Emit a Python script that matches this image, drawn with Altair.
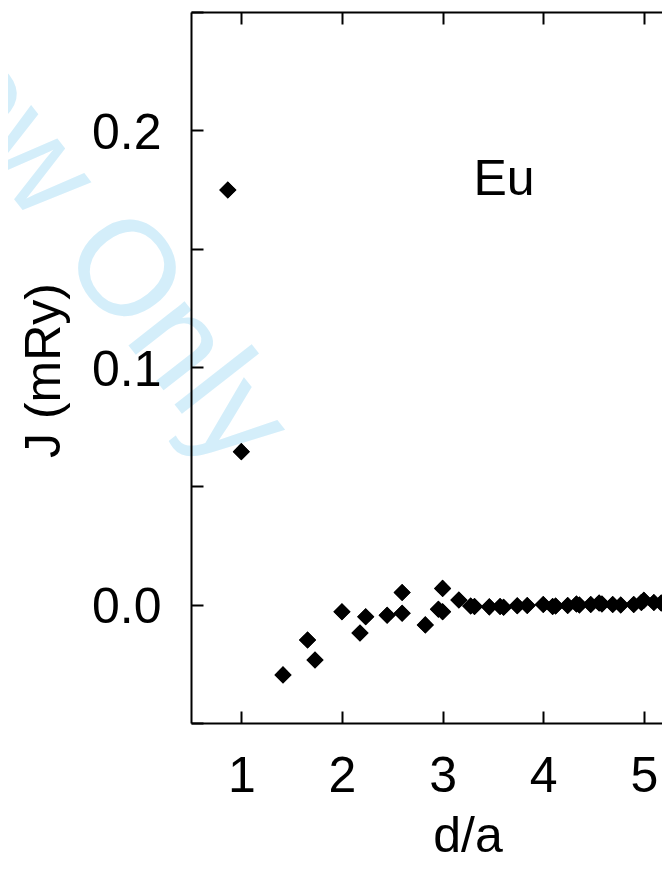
import altair as alt
import pandas as pd

# d/a (distance in lattice constants) and exchange J (mRy) for Eu
d_over_a = [0.866, 1.000, 1.414, 1.658, 1.732, 2.000, 2.179, 2.236, 2.449, 2.598,
            2.598, 2.828, 2.958, 3.000, 3.000, 3.162, 3.279, 3.317, 3.464, 3.571,
            3.606, 3.742, 3.841, 4.000, 4.093, 4.123, 4.243, 4.330, 4.359, 4.472,
            4.555, 4.583, 4.690, 4.770, 4.899, 4.975, 5.000, 5.099, 5.172, 5.196]
J_mRy = [0.1749, 0.0645, -0.0297, -0.0150, -0.0234, -0.0031, -0.0120, -0.0052, -0.0045, 0.0051,
         -0.0037, -0.0086, -0.0020, 0.0068, -0.0031, 0.0019, -0.0006, -0.0008, -0.0010, -0.0008,
         -0.0012, -0.0005, -0.0004, 0.0000, -0.0008, -0.0006, -0.0004, 0.0002, -0.0002, 0.0000,
         0.0006, 0.0002, 0.0000, -0.0002, 0.0000, 0.0008, 0.0018, 0.0008, 0.0006, 0.0002]

x_ticks = [1, 2, 3, 4, 5]
y_ticks = [-0.05, 0.0, 0.05, 0.10, 0.15, 0.20, 0.25]

label_text = ["Eu"]
label_x = [3.611]
label_y = [0.1727]

watermark = ["Review Only"]

FONT = "Liberation Sans"
points = pd.DataFrame({"d": d_over_a, "J": J_mRy})
labels = pd.DataFrame({"d": label_x, "J": label_y, "t": label_text})
wm = pd.DataFrame({"t": watermark})

xs = alt.Scale(domain=[0.5, 5.18], nice=False, zero=False)
ys = alt.Scale(domain=[-0.05, 0.25], nice=False, zero=False)

common = dict(grid=False, zindex=1, domainColor="black", domainWidth=2,
              tickColor="black", tickWidth=2, labelOverlap=False)

# watermark
wm_layer = alt.Chart(wm).mark_text(
    font=FONT, fontSize=135, color="#d4eefa", angle=52,
    align="right", baseline="alphabetic"
).encode(text="t:N", x=alt.value(38), y=alt.value(462))

# points with bottom/left inward ticks and labels
pts = alt.Chart(points).mark_point(
    shape="diamond", filled=True, size=290, color="black", opacity=1
).encode(
    x=alt.X("d:Q", scale=xs, axis=alt.Axis(
        orient="bottom", offset=-12, domain=False, ticks=True, tickSize=12,
        values=x_ticks, format="d", labelFont=FONT, labelFontSize=50,
        labelColor="black", labelPadding=28, title="d/a", titleFont=FONT,
        titleFontSize=50, titleFontWeight="normal", titleColor="black",
        titlePadding=10, titleX=276.5, **common)),
    y=alt.Y("J:Q", scale=ys, axis=alt.Axis(
        orient="left", offset=-12, domain=False, ticks=True, tickSize=12,
        values=y_ticks,
        labelExpr="abs(datum.value*10 - round(datum.value*10)) < 1e-6 ? format(datum.value, '.1f') : ''",
        labelFont=FONT, labelFontSize=50, labelColor="black", labelPadding=30,
        labelOffset=3, title="J (mRy)", titleFont=FONT, titleFontSize=50,
        titleFontWeight="normal", titleColor="black", titlePadding=22,
        titleY=358, **common)),
)

# "Eu" label, carrying the bottom/left axis lines
eu = alt.Chart(labels).mark_text(
    font=FONT, fontSize=50, color="black", align="center", baseline="alphabetic"
).encode(
    text="t:N",
    x=alt.X("d:Q", scale=xs, axis=alt.Axis(
        orient="bottom", domain=True, ticks=False, labels=False, title=None, **common)),
    y=alt.Y("J:Q", scale=ys, axis=alt.Axis(
        orient="left", domain=True, ticks=False, labels=False, title=None, **common)),
)

# top axis: inward ticks
top_ticks = alt.Chart(points).mark_point(
    shape="diamond", filled=True, size=290, color="black"
).encode(
    x=alt.X("d:Q", scale=xs, axis=alt.Axis(
        orient="top", offset=-12, domain=False, ticks=True, tickSize=12,
        values=x_ticks, labels=False, title=None, **common)),
    y=alt.Y("J:Q", scale=ys, axis=None),
)

# top axis line
top_line = alt.Chart(points).mark_point(
    shape="diamond", filled=True, size=290, color="black"
).encode(
    x=alt.X("d:Q", scale=xs, axis=alt.Axis(
        orient="top", domain=True, ticks=False, labels=False, title=None, **common)),
    y=alt.Y("J:Q", scale=ys, axis=None),
)

chart = alt.layer(wm_layer, pts, eu, top_ticks, top_line).resolve_axis(
    x="independent", y="independent"
).properties(
    width=471, height=711,
    autosize=alt.AutoSizeParams(type="none"),
    padding={"left": 183, "top": 4, "right": 0, "bottom": 138},
    background="white",
).configure_view(stroke=None)

chart.save("out.html", embed_options={"renderer": "svg", "actions": False})
